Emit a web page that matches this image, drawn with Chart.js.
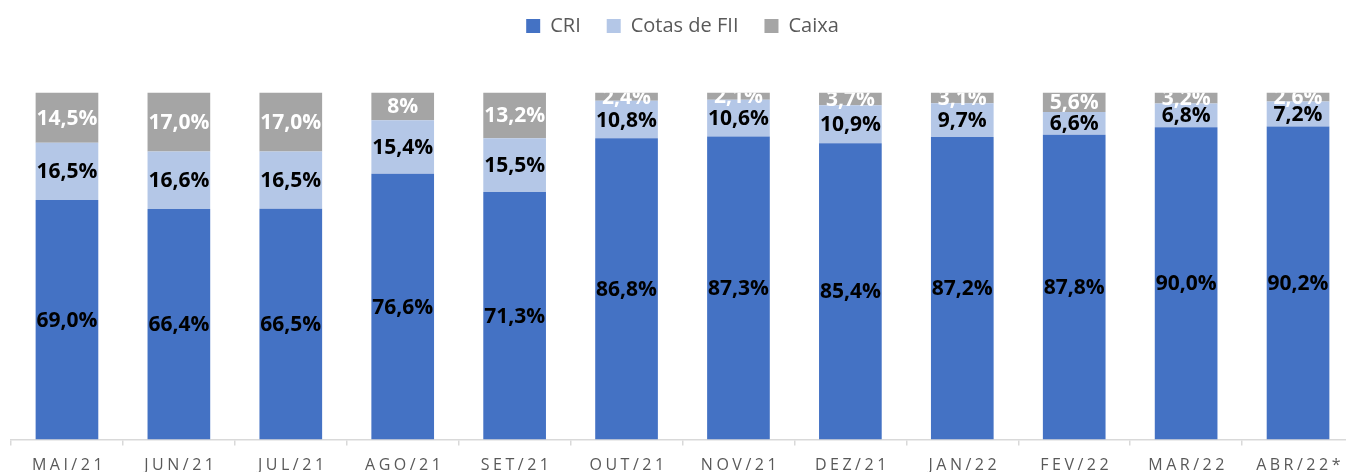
<!DOCTYPE html>
<html>
<head>
<meta charset="utf-8">
<script src="https://cdn.jsdelivr.net/npm/chart.js@4/dist/chart.umd.min.js"></script>
<style>
    html, body { margin: 0; padding: 0; background: #fff; overflow: hidden; }
    #wrap { width: 1354px; height: 472px; }
</style>
</head>
<body>
<div id="wrap"><canvas id="carteira" width="1354" height="472"></canvas></div>
<script>
const months = ['MAI/21', 'JUN/21', 'JUL/21', 'AGO/21', 'SET/21', 'OUT/21',
                'NOV/21', 'DEZ/21', 'JAN/22', 'FEV/22', 'MAR/22', 'ABR/22*'];
const cri   = [69.0, 66.4, 66.5, 76.6, 71.3, 86.8, 87.3, 85.4, 87.2, 87.8, 90.0, 90.2];
const cotas = [16.5, 16.6, 16.5, 15.4, 15.5, 10.8, 10.6, 10.9,  9.7,  6.6,  6.8,  7.2];
const caixa = [14.5, 17.0, 17.0,  8.0, 13.2,  2.4,  2.1,  3.7,  3.1,  5.6,  3.2,  2.6];
// labels printed without decimals in the source
const plainPct = { Caixa: [3] };

const colors = { cri: '#4472C4', cotas: '#B4C7E7', caixa: '#A5A5A5' };

function fmt(v, dsLabel, i) {
    if ((plainPct[dsLabel] || []).indexOf(i) >= 0) return Math.round(v) + '%';
    return v.toFixed(1).replace('.', ',') + '%';
}

// leaves a wide gap between legend and bars
const legendGap = {
    id: 'legendGap',
    beforeInit(chart) {
        const fit = chart.legend.fit;
        chart.legend.fit = function() {
            fit.call(this);
            this.height = 102.5;
        };
    }
};

// draws the value in the middle of each stacked segment, clipped to the plot
const segmentLabels = {
    id: 'segmentLabels',
    afterDatasetsDraw(chart) {
        const ctx = chart.ctx;
        const area = chart.chartArea;
        ctx.save();
        ctx.beginPath();
        ctx.rect(area.left, area.top, area.right - area.left, area.bottom - area.top);
        ctx.clip();
        ctx.font = 'bold 21px "Open Sans"';
        ctx.textAlign = 'center';
        ctx.textBaseline = 'middle';
        chart.data.datasets.forEach(function(ds, d) {
            const meta = chart.getDatasetMeta(d);
            ctx.fillStyle = ds.labelColor;
            meta.data.forEach(function(bar, i) {
                const p = bar.getProps(['x', 'y', 'base'], true);
                ctx.fillText(fmt(ds.data[i], ds.label, i), p.x, (p.y + p.base) / 2 + 1);
            });
        });
        ctx.restore();
        // spaced-out month labels are drawn after this (ticks z = 1)
        ctx.letterSpacing = '3.5px';
    },
    afterDraw(chart) {
        chart.ctx.letterSpacing = '0px';
    }
};

new Chart(document.getElementById('carteira').getContext('2d'), {
    type: 'bar',
    data: {
        labels: months,
        datasets: [
            { label: 'CRI', data: cri, backgroundColor: colors.cri, labelColor: '#000' },
            { label: 'Cotas de FII', data: cotas, backgroundColor: colors.cotas, labelColor: '#000' },
            { label: 'Caixa', data: caixa, backgroundColor: colors.caixa, labelColor: '#fff' }
        ]
    },
    options: {
        responsive: false,
        devicePixelRatio: 1,
        animation: false,
        layout: { padding: { left: 11, right: 0, top: -10, bottom: 0 } },
        datasets: {
            bar: { categoryPercentage: 1.0, barPercentage: 0.56, borderWidth: 0 }
        },
        plugins: {
            legend: {
                position: 'top',
                labels: {
                    boxWidth: 14,
                    boxHeight: 14,
                    padding: 26,
                    color: '#595959',
                    font: { family: '"Open Sans"', size: 20 }
                }
            },
            tooltip: { enabled: false }
        },
        scales: {
            x: {
                stacked: true,
                afterFit(scale) { scale.height = 32.5; },
                grid: {
                    drawOnChartArea: false,
                    drawTicks: true,
                    tickLength: 6,
                    color: '#D9D9D9',
                    lineWidth: 1.5
                },
                border: { color: '#D9D9D9', width: 1.5 },
                ticks: {
                    z: 1,
                    color: '#595959',
                    padding: 10,
                    labelOffset: 2,
                    maxRotation: 0,
                    autoSkip: false,
                    font: { family: '"Open Sans"', size: 16 }
                }
            },
            y: {
                stacked: true,
                display: false,
                min: 0,
                max: 100
            }
        }
    },
    plugins: [legendGap, segmentLabels]
});
</script>
</body>
</html>
